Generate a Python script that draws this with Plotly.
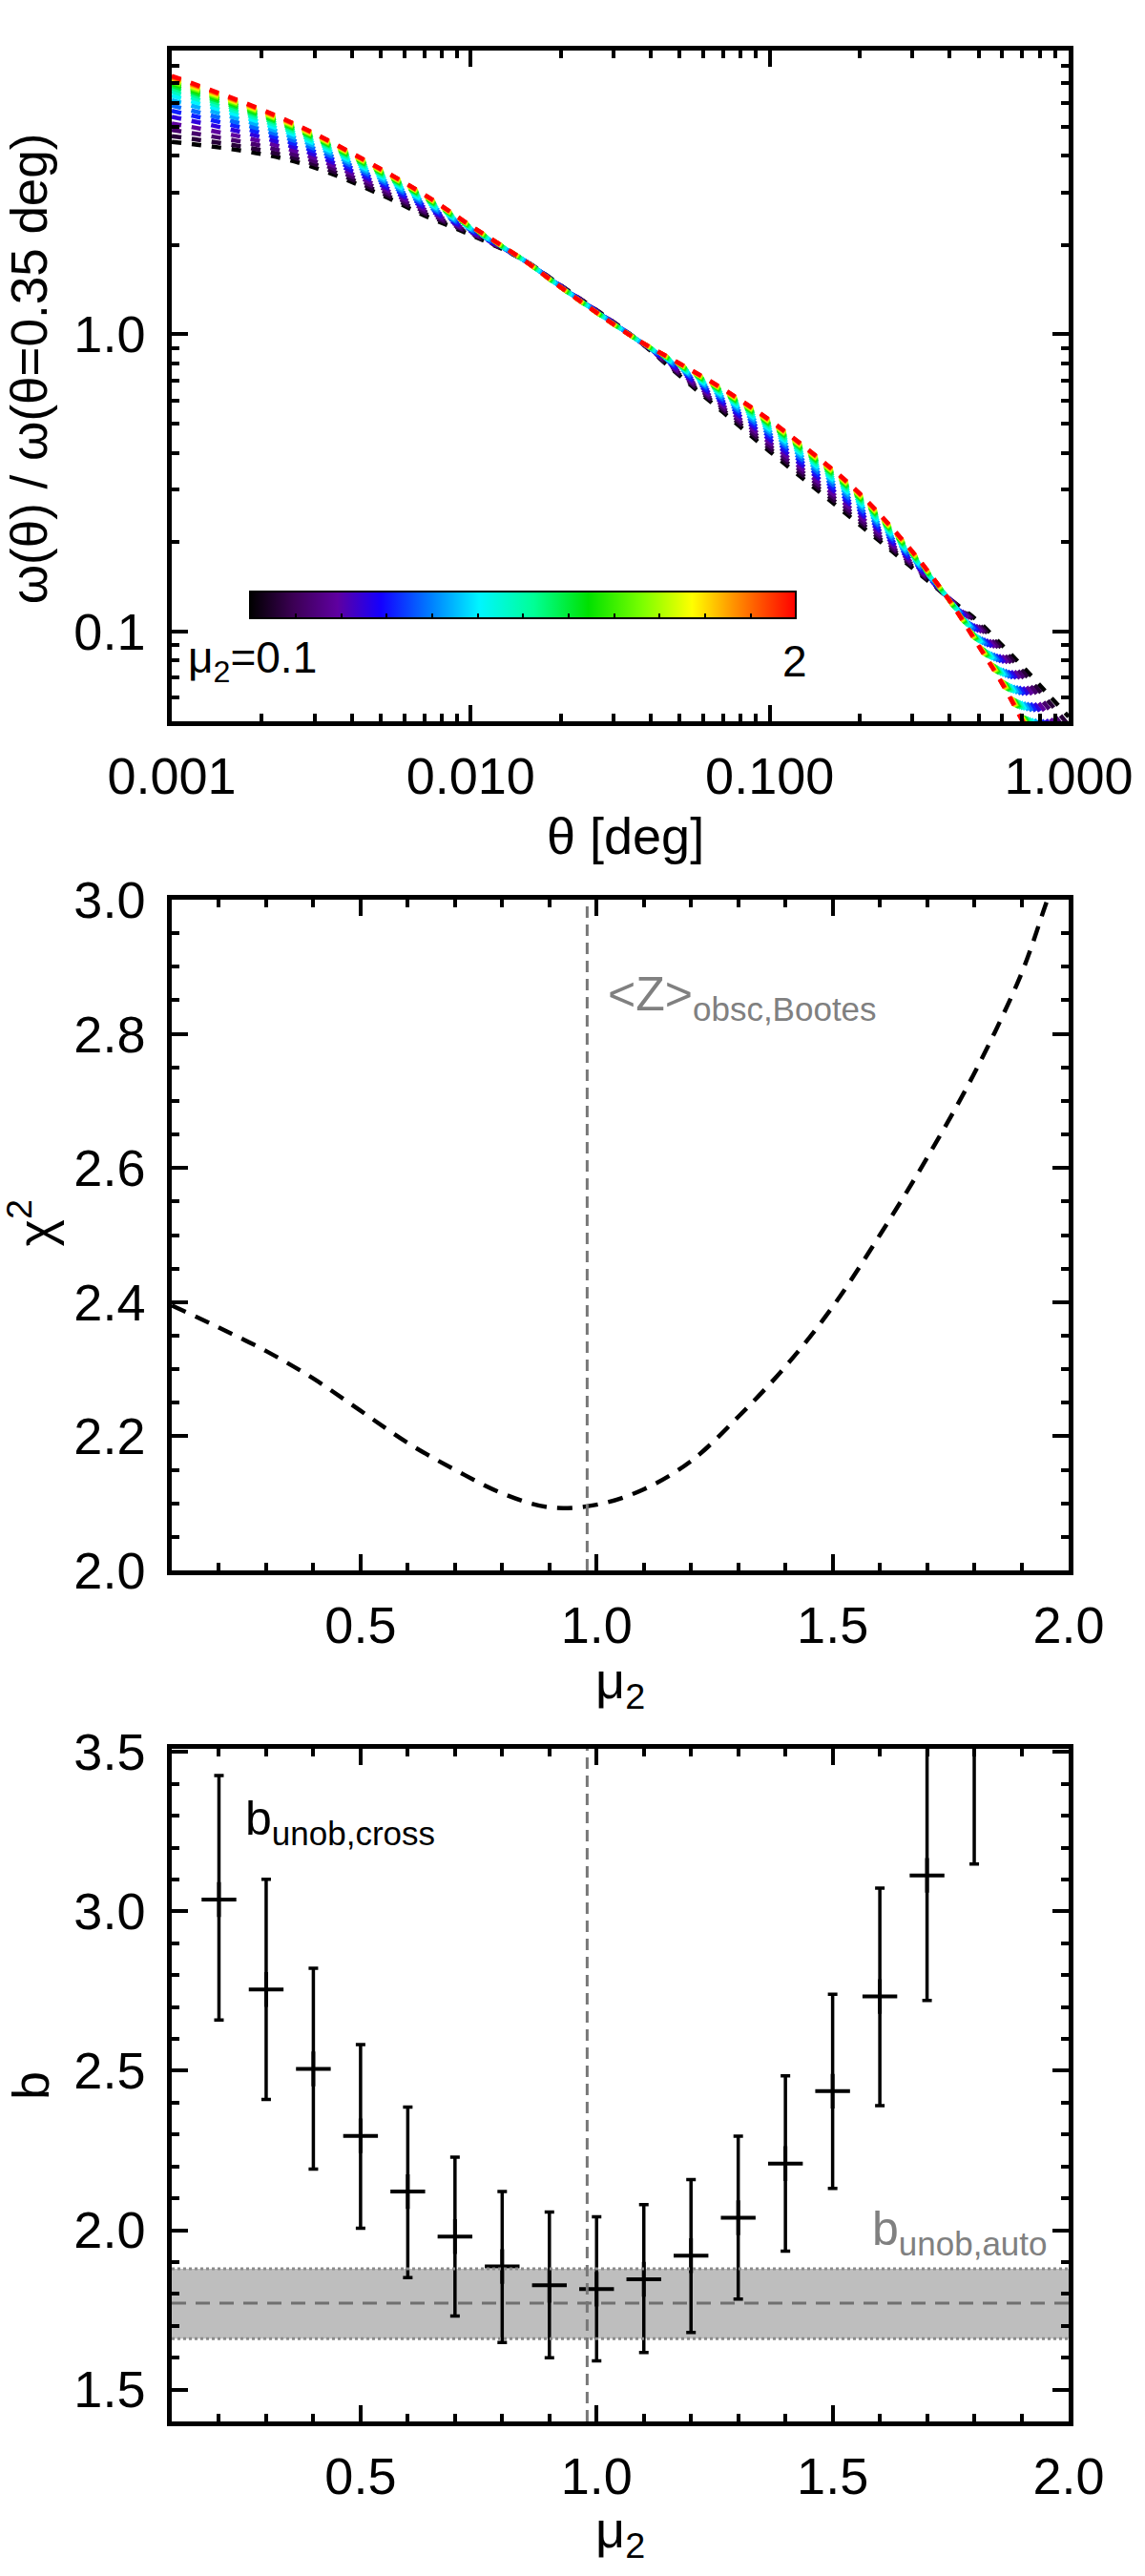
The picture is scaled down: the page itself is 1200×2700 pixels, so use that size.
import numpy as np
import plotly.graph_objects as go
from plotly.colors import sample_colorscale

FONT = "Liberation Sans, Arial, sans-serif"

# ---------------- Panel 1: normalised angular correlation, one curve per mu2 ----------------
theta_deg = [0.001, 0.002, 0.003, 0.005, 0.007, 0.01, 0.015, 0.02, 0.035, 0.05, 0.07,
             0.1, 0.15, 0.2, 0.3, 0.4, 0.5, 0.6, 0.7, 0.85, 1.0]
mu_curves = [0.1, 0.2, 0.3, 0.4, 0.5, 0.6, 0.7, 0.8, 0.9, 1.0,
             1.1, 1.2, 1.3, 1.4, 1.5, 1.6, 1.7, 1.8, 1.9, 2.0]

w_mu01 = [4.44, 4.04, 3.64, 2.95, 2.51, 2.16, 1.78, 1.46, 0.982, 0.726, 0.546, 0.404, 0.29, 0.229, 0.164, 0.129, 0.108, 0.0899, 0.0766, 0.0619, 0.0518]
w_mu02 = [4.64, 4.16, 3.73, 3.00, 2.55, 2.18, 1.78, 1.46, 0.981, 0.732, 0.555, 0.413, 0.297, 0.234, 0.166, 0.129, 0.106, 0.0876, 0.0737, 0.0588, 0.0485]
w_mu03 = [4.87, 4.30, 3.82, 3.06, 2.59, 2.19, 1.78, 1.458, 0.981, 0.739, 0.564, 0.422, 0.304, 0.239, 0.168, 0.129, 0.1043, 0.0852, 0.0709, 0.0558, 0.0454]
w_mu04 = [5.12, 4.45, 3.92, 3.12, 2.63, 2.21, 1.78, 1.455, 0.980, 0.746, 0.574, 0.432, 0.311, 0.245, 0.170, 0.129, 0.1024, 0.0827, 0.0680, 0.0526, 0.0423]
w_mu05 = [5.39, 4.60, 4.02, 3.18, 2.67, 2.22, 1.78, 1.452, 0.980, 0.753, 0.585, 0.443, 0.320, 0.251, 0.172, 0.128, 0.1005, 0.0803, 0.0652, 0.0497, 0.0393]
w_mu06 = [5.64, 4.75, 4.12, 3.24, 2.71, 2.24, 1.78, 1.450, 0.979, 0.760, 0.594, 0.453, 0.327, 0.256, 0.174, 0.128, 0.0988, 0.0781, 0.0627, 0.0472, 0.0368]
w_mu07 = [5.88, 4.88, 4.21, 3.29, 2.74, 2.25, 1.78, 1.447, 0.979, 0.766, 0.603, 0.462, 0.334, 0.261, 0.176, 0.128, 0.0974, 0.0763, 0.0606, 0.0450, 0.0348]
w_mu08 = [6.13, 5.02, 4.30, 3.34, 2.78, 2.26, 1.78, 1.445, 0.979, 0.771, 0.612, 0.471, 0.341, 0.267, 0.177, 0.128, 0.0959, 0.0745, 0.0586, 0.0430, 0.0328]
w_mu09 = [6.35, 5.14, 4.38, 3.39, 2.81, 2.27, 1.78, 1.443, 0.978, 0.776, 0.620, 0.479, 0.347, 0.271, 0.179, 0.128, 0.0947, 0.0729, 0.0569, 0.0413, 0.0312]
w_mu10 = [6.55, 5.25, 4.45, 3.43, 2.84, 2.28, 1.78, 1.442, 0.978, 0.781, 0.627, 0.486, 0.352, 0.275, 0.180, 0.127, 0.0936, 0.0716, 0.0555, 0.0398, 0.0299]
w_mu11 = [6.72, 5.34, 4.51, 3.46, 2.86, 2.29, 1.78, 1.441, 0.978, 0.784, 0.632, 0.492, 0.357, 0.279, 0.181, 0.127, 0.0928, 0.0706, 0.0543, 0.0387, 0.0288]
w_mu12 = [6.85, 5.41, 4.56, 3.49, 2.88, 2.29, 1.78, 1.440, 0.978, 0.787, 0.637, 0.497, 0.361, 0.281, 0.182, 0.127, 0.0921, 0.0697, 0.0534, 0.0378, 0.0280]
w_mu13 = [6.96, 5.47, 4.59, 3.51, 2.89, 2.30, 1.78, 1.439, 0.977, 0.789, 0.640, 0.500, 0.364, 0.283, 0.183, 0.127, 0.0916, 0.0691, 0.0527, 0.0372, 0.0274]
w_mu14 = [7.05, 5.52, 4.62, 3.53, 2.91, 2.30, 1.78, 1.438, 0.977, 0.791, 0.643, 0.503, 0.366, 0.285, 0.184, 0.127, 0.0911, 0.0686, 0.0522, 0.0366, 0.0269]
w_mu15 = [7.12, 5.56, 4.65, 3.54, 2.92, 2.31, 1.78, 1.44, 0.978, 0.792, 0.646, 0.506, 0.368, 0.286, 0.184, 0.127, 0.0908, 0.0682, 0.0517, 0.0362, 0.0265]
w_mu16 = [7.19, 5.59, 4.67, 3.56, 2.93, 2.31, 1.78, 1.44, 0.977, 0.794, 0.648, 0.508, 0.370, 0.288, 0.185, 0.127, 0.0905, 0.0678, 0.0513, 0.0358, 0.0261]
w_mu17 = [7.25, 5.62, 4.69, 3.57, 2.93, 2.31, 1.78, 1.44, 0.977, 0.795, 0.650, 0.510, 0.371, 0.289, 0.185, 0.127, 0.0902, 0.0675, 0.0510, 0.0355, 0.0259]
w_mu18 = [7.30, 5.65, 4.71, 3.58, 2.94, 2.31, 1.78, 1.44, 0.977, 0.796, 0.652, 0.512, 0.373, 0.290, 0.185, 0.127, 0.0900, 0.0672, 0.0507, 0.0352, 0.0256]
w_mu19 = [7.35, 5.68, 4.73, 3.59, 2.95, 2.32, 1.78, 1.44, 0.977, 0.797, 0.653, 0.514, 0.374, 0.291, 0.186, 0.127, 0.0897, 0.0669, 0.0504, 0.0349, 0.0253]
w_mu20 = [7.40, 5.70, 4.74, 3.60, 2.95, 2.32, 1.78, 1.44, 0.977, 0.798, 0.655, 0.515, 0.375, 0.292, 0.186, 0.127, 0.0895, 0.0667, 0.0501, 0.0347, 0.0251]
w_curves = [w_mu01, w_mu02, w_mu03, w_mu04, w_mu05, w_mu06, w_mu07, w_mu08, w_mu09, w_mu10,
            w_mu11, w_mu12, w_mu13, w_mu14, w_mu15, w_mu16, w_mu17, w_mu18, w_mu19, w_mu20]

# ---------------- Panel 2: chi^2 versus mu2 ----------------
mu_chi = [0.1, 0.2, 0.3, 0.4, 0.5, 0.6, 0.7, 0.8, 0.9, 1.0, 1.1, 1.2, 1.3, 1.4, 1.5, 1.6, 1.7,
          1.8, 1.9, 1.95, 1.97]
chi2 = [2.395, 2.362, 2.327, 2.286, 2.238, 2.190, 2.150, 2.115, 2.094, 2.098, 2.121, 2.163, 2.229,
        2.304, 2.393, 2.500, 2.615, 2.741, 2.890, 2.990, 3.030]

# ---------------- Panel 3: bias versus mu2 ----------------
mu_b = [0.2, 0.3, 0.4, 0.5, 0.6, 0.7, 0.8, 0.9, 1.0, 1.1, 1.2, 1.3, 1.4, 1.5, 1.6, 1.7, 1.8]
b_cross = [3.037, 2.755, 2.506, 2.296, 2.121, 1.980, 1.886, 1.827, 1.815, 1.846, 1.920, 2.039,
           2.209, 2.436, 2.733, 3.113, 3.600]
b_err_hi = [0.389, 0.346, 0.316, 0.286, 0.265, 0.249, 0.235, 0.230, 0.227, 0.234, 0.239, 0.256,
            0.275, 0.304, 0.340, 0.450, 0.500]
b_err_lo = [0.378, 0.345, 0.314, 0.290, 0.270, 0.249, 0.238, 0.227, 0.225, 0.230, 0.241, 0.255,
            0.275, 0.305, 0.342, 0.392, 0.451]
b_auto, b_auto_lo, b_auto_hi = 1.771, 1.660, 1.879
z_obsc_bootes = 0.98

idl_rainbow = [[0.0, 'rgb(0,0,0)'], [0.08, 'rgb(60,0,85)'], [0.16, 'rgb(95,0,160)'],
               [0.24, 'rgb(20,0,255)'], [0.33, 'rgb(0,125,255)'], [0.42, 'rgb(0,245,255)'],
               [0.52, 'rgb(0,255,150)'], [0.62, 'rgb(0,225,0)'], [0.72, 'rgb(125,255,0)'],
               [0.81, 'rgb(255,255,0)'], [0.88, 'rgb(255,155,0)'], [0.94, 'rgb(255,75,0)'],
               [1.0, 'rgb(255,0,0)']]
mu_min, mu_max = mu_curves[0], mu_curves[-1]

fig = go.Figure()
for m, row in zip(mu_curves, w_curves):
    col = sample_colorscale(idl_rainbow, [(m - mu_min) / (mu_max - mu_min)])[0]
    fig.add_trace(go.Scatter(x=theta_deg, y=row, mode='lines', xaxis='x', yaxis='y',
                             line=dict(color=col, width=4.5, dash='10px,11px', shape='spline'),
                             hoverinfo='skip', showlegend=False))

fig.add_trace(go.Scatter(x=[None], y=[None], mode='markers', xaxis='x', yaxis='y', showlegend=False,
                         marker=dict(color=[mu_min], cmin=mu_min, cmax=mu_max, colorscale=idl_rainbow,
                                     showscale=True,
                                     colorbar=dict(orientation='h', x=0.392, xanchor='center', y=0.7645,
                                                   yanchor='middle', len=0.6087, lenmode='fraction',
                                                   thickness=28, outlinewidth=2, outlinecolor='black',
                                                   ticks='inside', ticklen=6, tickwidth=2, tickcolor='black',
                                                   tickvals=[mu_min + (mu_max - mu_min) * k / 12 for k in range(13)],
                                                   showticklabels=False, xpad=0, ypad=0))))

fig.add_trace(go.Scatter(x=mu_chi, y=chi2, mode='lines', xaxis='x2', yaxis='y2', showlegend=False,
                         line=dict(color='black', width=4.5, dash='16px,11px', shape='spline')))

fig.add_trace(go.Scatter(x=mu_b, y=b_cross, mode='markers', xaxis='x3', yaxis='y3', showlegend=False,
                         marker=dict(symbol='cross-thin', size=26, color='black',
                                     line=dict(width=4, color='black')),
                         error_y=dict(type='data', symmetric=False, array=b_err_hi, arrayminus=b_err_lo,
                                      thickness=3.5, width=5, color='black')))

common = dict(showline=True, linecolor='black', linewidth=4.5, mirror='allticks', ticks='inside',
              ticklen=17, tickwidth=4, tickcolor='black', showgrid=False, zeroline=False,
              tickfont=dict(size=54, color='black', family=FONT))
minor_common = dict(ticks='inside', ticklen=8, tickwidth=3.5, tickcolor='black', showgrid=False)

minor_theta = [d * k for d in [1e-3, 1e-2, 1e-1] for k in range(2, 10)]
minor_w = [0.06, 0.07, 0.08, 0.09] + [d * k for d in [0.1, 1.0] for k in range(2, 10)]

fig.update_layout(
    width=1200, height=2700, margin=dict(l=180, r=72, t=53, b=162),
    paper_bgcolor='white', plot_bgcolor='white', showlegend=False,
    font=dict(family=FONT, color='black', size=54),
    xaxis=dict(common, type='log', range=[-3, 0], anchor='y', domain=[0, 1],
               tickvals=[0.001, 0.01, 0.1, 1.0], ticktext=['0.001', '0.010', '0.100', '1.000'],
               ticklabelstandoff=6, minor=dict(minor_common, tickvals=minor_theta)),
    yaxis=dict(common, type='log', range=[np.log10(0.05), np.log10(9.0)], anchor='x', domain=[0.71710, 1.0],
               tickvals=[0.1, 1.0], ticktext=['0.1', '1.0'], ticklabelstandoff=12,
               minor=dict(minor_common, tickvals=minor_w)),
    xaxis2=dict(common, range=[0.1, 2.0], anchor='y2', domain=[0, 1], tickmode='linear', tick0=0, dtick=0.5,
                tickformat='.1f', ticklabelstandoff=6, minor=dict(minor_common, tick0=0, dtick=0.1)),
    yaxis2=dict(common, range=[2.0, 3.0], anchor='x2', domain=[0.35895, 0.64185], tickmode='linear',
                tick0=0, dtick=0.2, tickformat='.1f', ticklabelstandoff=12,
                minor=dict(minor_common, tick0=0, dtick=0.05)),
    xaxis3=dict(common, range=[0.1, 2.0], anchor='y3', domain=[0, 1], tickmode='linear', tick0=0, dtick=0.5,
                tickformat='.1f', ticklabelstandoff=6, minor=dict(minor_common, tick0=0, dtick=0.1)),
    yaxis3=dict(common, range=[1.4, 3.51], anchor='x3', domain=[0, 0.28370], tickmode='linear',
                tick0=0, dtick=0.5, tickformat='.1f', ticklabelstandoff=12,
                minor=dict(minor_common, tick0=0, dtick=0.1)),
)

shapes = [
    dict(type='rect', xref='x3 domain', x0=0, x1=1, yref='y3', y0=b_auto_lo, y1=b_auto_hi,
         fillcolor='#bebebe', line=dict(width=0), layer='below'),
    dict(type='line', xref='x3 domain', x0=0, x1=1, yref='y3', y0=b_auto_hi, y1=b_auto_hi,
         line=dict(color='#8a8a8a', width=3, dash='dot')),
    dict(type='line', xref='x3 domain', x0=0, x1=1, yref='y3', y0=b_auto_lo, y1=b_auto_lo,
         line=dict(color='#8a8a8a', width=3, dash='dot')),
    dict(type='line', xref='x3 domain', x0=0, x1=1, yref='y3', y0=b_auto, y1=b_auto,
         line=dict(color='#707070', width=3, dash='15px,10px')),
    dict(type='line', xref='x2', x0=z_obsc_bootes, x1=z_obsc_bootes, yref='y2 domain', y0=0, y1=1,
         line=dict(color='#777777', width=3, dash='12px,7px')),
    dict(type='line', xref='x3', x0=z_obsc_bootes, x1=z_obsc_bootes, yref='y3 domain', y0=0, y1=1,
         line=dict(color='#777777', width=3, dash='12px,7px')),
]
fig.update_layout(shapes=shapes)


def ann(text, x, y, size=54, color='black', xanchor='center', yanchor='middle', angle=0):
    return dict(text=text, x=x, y=y, xref='paper', yref='paper', showarrow=False, xanchor=xanchor,
                yanchor=yanchor, textangle=angle, font=dict(size=size, color=color, family=FONT))


annotations = [
    ann('ω(θ) / ω(θ=0.35 deg)', -0.1582, 0.8660, size=53, angle=-90),
    ann('θ [deg]', 0.5063, 0.6690, size=54),
    ann('μ<sub>2</sub>=0.1', 0.0158, 0.7425, size=46, xanchor='left'),
    ann('2', 0.6952, 0.7425, size=46),
    ann('χ<sup>2</sup>', -0.1560, 0.5054, size=54, angle=-90),
    ann('μ<sub>2</sub>', 0.5, 0.3111, size=54),
    ann('&lt;Z&gt;<sub>obsc,Bootes</sub>', 0.4842, 0.6008, size=50, color='#808080', xanchor='left'),
    ann('b', -0.1580, 0.1418, size=54, angle=-90),
    ann('μ<sub>2</sub>', 0.5, -0.0471, size=54),
    ann('b<sub>unob,cross</sub>', 0.0802, 0.2530, size=50, xanchor='left'),
    ann('b<sub>unob,auto</sub>', 0.9789, 0.0797, size=50, color='#808080', xanchor='right'),
]
fig.update_layout(annotations=annotations)

fig.write_html("out.html")
